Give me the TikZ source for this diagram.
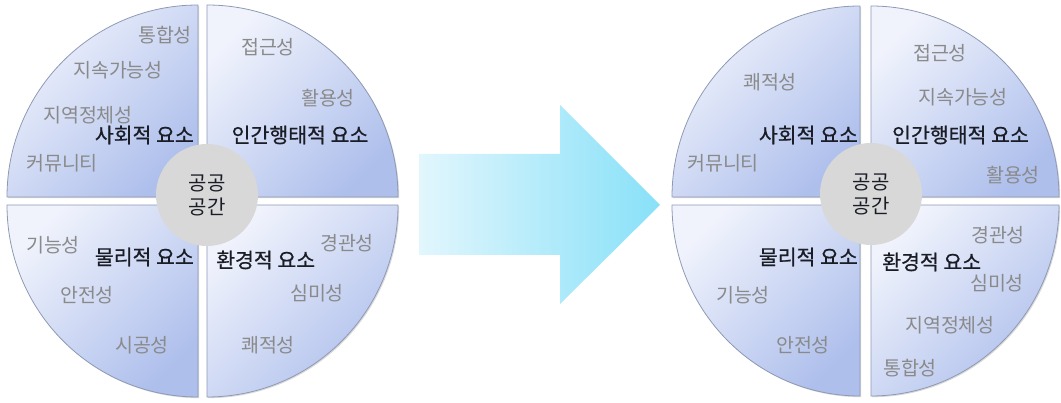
\documentclass[tikz,border=0pt]{standalone}
\usepackage{fontspec}
\setmainfont{Noto Sans CJK KR}
\newfontfamily\heavykr[FakeBold=0.7]{Noto Sans CJK KR}
\usetikzlibrary{shadows}
\definecolor{qlight}{HTML}{F0F3FC}
\definecolor{qdark}{HTML}{AEBFEC}
\definecolor{qline}{HTML}{8E9AB4}
\definecolor{hubfill}{HTML}{D8D8D8}
\definecolor{subtxt}{HTML}{8A8A8A}
\definecolor{maintxt}{HTML}{1A1D26}
\definecolor{arrowlight}{HTML}{E2F6FD}
\definecolor{arrowdark}{HTML}{88E1F8}
\begin{document}
\begin{tikzpicture}[x=1pt,y=1pt,
  quad/.style={draw=qline, line width=0.8pt, top color=qlight, bottom color=qdark, shading angle=45,
    drop shadow={shadow xshift=1.2pt, shadow yshift=-1.2pt, opacity=0.3}},
  hub/.style={circle, fill=hubfill, minimum size=102pt, inner sep=0pt, align=center,
    text=maintxt, font=\fontsize{20}{24}\selectfont},
  sub/.style={text=subtxt, font=\fontsize{19.5}{20}\selectfont, inner sep=0pt},
  mainlbl/.style={text=maintxt, font=\heavykr\fontsize{20.5}{20}\selectfont, inner sep=0pt}]
\useasboundingbox (0,0) rectangle (1061,403);
% ---------- left circle ----------
\path[quad] (198,206) -- ++(-191,0) arc[start angle=180, end angle=90, x radius=191, y radius=192] -- cycle;
\path[quad] (207,206) -- ++(0,192) arc[start angle=90, end angle=0, x radius=191, y radius=192] -- cycle;
\path[quad] (198,198) -- ++(-191,0) arc[start angle=180, end angle=270, x radius=191, y radius=192] -- cycle;
\path[quad] (207,198) -- ++(191,0) arc[start angle=0, end angle=-90, x radius=191, y radius=192] -- cycle;
\node[hub] (hubL) at (207,208) {공공\\공간};
\node[sub] (l1) at (165,368) {통합성};
\node[sub] (l2) at (118,333) {지속가능성};
\node[sub] (l3) at (88,288) {지역정체성};
\node[mainlbl, anchor=east] (l4) at (194,268) {사회적 요소};
\node[sub] (l5) at (62,240) {커뮤니티};
\node[sub] (l6) at (268,356) {접근성};
\node[sub] (l7) at (328,305) {활용성};
\node[mainlbl] (l8) at (300,268) {인간행태적 요소};
\node[sub] (l9) at (53,158) {기능성};
\node[mainlbl, anchor=east] (l10) at (194,146) {물리적 요소};
\node[sub] (l11) at (87,108) {안전성};
\node[sub] (l12) at (142,58) {시공성};
\node[sub] (l13) at (347,160) {경관성};
\node[mainlbl, anchor=west] (l14) at (216,143) {환경적 요소};
\node[sub] (l15) at (317,110) {심미성};
\node[sub] (l16) at (268,58) {쾌적성};
% ---------- arrow ----------
\path[left color=arrowlight, right color=arrowdark]
  (419,148) -- (560,148) -- (560,99) -- (660,198) -- (560,298) -- (560,249) -- (419,249) -- cycle;
% ---------- right circle ----------
\path[quad] (860,206) -- ++(-188,0) arc[start angle=180, end angle=90, x radius=188, y radius=191] -- cycle;
\path[quad] (871,206) -- ++(0,191) arc[start angle=90, end angle=0, x radius=188, y radius=191] -- cycle;
\path[quad] (860,198) -- ++(-188,0) arc[start angle=180, end angle=270, x radius=188, y radius=191] -- cycle;
\path[quad] (871,198) -- ++(188,0) arc[start angle=0, end angle=-90, x radius=188, y radius=191] -- cycle;
\node[hub] (hubR) at (871,209) {공공\\공간};
\node[sub] (r1) at (770,321) {쾌적성};
\node[mainlbl, anchor=east] (r2) at (858,268) {사회적 요소};
\node[sub] (r3) at (723,240) {커뮤니티};
\node[sub] (r4) at (940,350) {접근성};
\node[sub] (r5) at (963,306) {지속가능성};
\node[mainlbl, anchor=west] (r6) at (892,268) {인간행태적 요소};
\node[sub] (r7) at (1013,228) {활용성};
\node[sub] (r8) at (998,168) {경관성};
\node[mainlbl, anchor=east] (r9) at (858,146) {물리적 요소};
\node[mainlbl, anchor=west] (r10) at (882,141) {환경적 요소};
\node[sub] (r11) at (997,120) {심미성};
\node[sub] (r12) at (743,108) {기능성};
\node[sub] (r13) at (950,78) {지역정체성};
\node[sub] (r14) at (803,58) {안전성};
\node[sub] (r15) at (910,35) {통합성};
\end{tikzpicture}
\end{document}
